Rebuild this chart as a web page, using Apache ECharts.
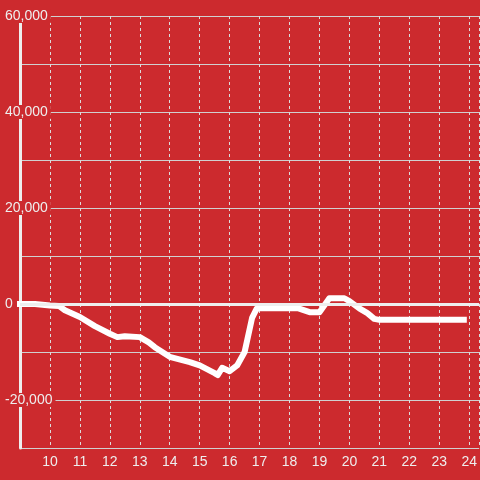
<!DOCTYPE html>
<html>
<head>
<meta charset="utf-8">
<script src="https://cdn.jsdelivr.net/npm/echarts@6/dist/echarts.min.js"></script>
<style>html,body{margin:0;padding:0;background:#cc2a2e;}#c{width:480px;height:480px;}</style>
</head>
<body>
<div id="c"></div>
<script>
var hours = [8.9, 9.5, 10.0, 10.3, 10.5, 11.0, 11.5, 12.0, 12.25, 12.5, 13.0, 13.3, 13.5, 14.0, 14.67, 15.0, 15.5, 15.6, 15.75, 16.0, 16.25, 16.5, 16.75, 16.9, 17.0, 18.3, 18.67, 19.0, 19.33, 19.83, 20.0, 20.33, 20.6, 20.83, 21.0, 23.92];
var values = [0, 0, -300, -400, -1300, -2700, -4600, -6200, -6900, -6700, -6900, -8000, -9000, -11000, -12100, -12800, -14400, -14800, -13300, -14000, -12800, -10000, -2900, -1000, -900, -900, -1700, -1700, 1200, 1200, 600, -900, -1900, -3100, -3300, -3300];
var xTickLabels = [10, 11, 12, 13, 14, 15, 16, 17, 18, 19, 20, 21, 22, 23, 24];
var yTickLabels = [-20000, 0, 20000, 40000, 60000];

var bg = '#cc2a2e';
var data = hours.map(function (h, i) { return [h, values[i]]; });
var chart = echarts.init(document.getElementById('c'), null, {renderer: 'canvas'});
chart.setOption({
  backgroundColor: bg,
  animation: false,
  grid: {left: 20, right: 0, top: 16, bottom: 32, containLabel: false},
  xAxis: {
    type: 'value', min: 9, max: 24.3333, interval: 1,
    axisLine: {show: false, onZero: false},
    axisTick: {show: false},
    axisLabel: {
      color: '#eee', fontSize: 14, margin: 7, fontFamily: 'Liberation Sans, Arial, sans-serif',
      showMinLabel: false, showMaxLabel: false,
      formatter: function (v) { return xTickLabels.indexOf(Math.round(v)) >= 0 && Math.abs(v - Math.round(v)) < 1e-6 ? String(Math.round(v)) : ''; }
    },
    splitLine: {show: true, lineStyle: {color: '#dcdcdc', width: 1, type: [3, 3]}}
  },
  yAxis: {
    type: 'value', min: -30000, max: 60000, interval: 10000,
    axisLine: {show: true, onZero: false, lineStyle: {color: '#eee', width: 3}},
    axisTick: {show: false},
    axisLabel: {
      color: '#eee', fontSize: 14, align: 'left', margin: 15, fontFamily: 'Liberation Sans, Arial, sans-serif',
      backgroundColor: bg, padding: [0, 3, 0, 0],
      formatter: function (v) { return yTickLabels.indexOf(v) >= 0 ? v.toLocaleString('en-US') : ''; }
    },
    splitLine: {show: true, lineStyle: {color: '#d0d0d0', width: 1}}
  },
  series: [{
    type: 'line', data: data, showSymbol: false, symbol: 'none', clip: false,
    lineStyle: {color: '#fff', width: 6, cap: 'butt', join: 'round'},
    markLine: {
      silent: true, symbol: ['none', 'none'], label: {show: false},
      lineStyle: {color: '#eee', width: 3, type: 'solid'},
      data: [{yAxis: 0}]
    },
    z: 3
  }]
});
</script>
</body>
</html>
